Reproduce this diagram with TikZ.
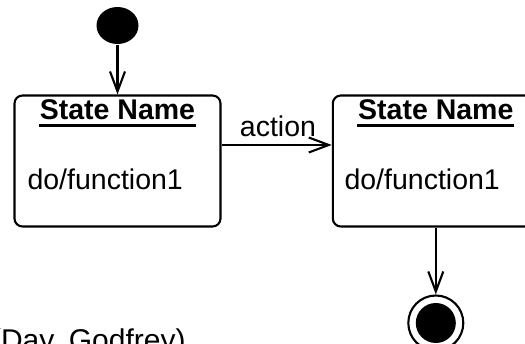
\documentclass[tikz,border=0pt]{standalone}
\usepackage{fontspec}
\setmainfont{Liberation Sans}
\usetikzlibrary{arrows.meta,shapes.geometric}

\begin{document}
\begin{tikzpicture}[x=1pt,y=-1pt,
  line width=2.1pt,
  statebox/.style={draw, rounded corners=8pt, minimum width=206pt, minimum height=131pt, inner sep=0pt},
  txt/.style={font=\fontsize{28.5}{34}\selectfont, inner sep=0pt},
  ttl/.style={font=\fontsize{28.5}{34}\selectfont\bfseries, inner sep=0pt},
  flow/.style={-{Straight Barb[length=20pt,width=15pt,line width=2.1pt]}},
  ]
\useasboundingbox (0,0) rectangle (525,344);
\clip (0,0) rectangle (525,344);

% initial pseudo-state
\node[fill=black, ellipse, minimum width=42pt, minimum height=37pt, inner sep=0pt] (init) at (117.5,25.5) {};

% the two states
\node[statebox] (s1) at (117.5,161) {};
\node[statebox] (s2) at (435.8,161) {};

\node[ttl, anchor=base] (t1) at (117.5,120) {State Name};
\draw[line width=2.2pt] ([yshift=-5.5pt]t1.base west) -- ([yshift=-5.5pt]t1.base east);
\node[txt, anchor=base west] (d1) at (26.5,190) {do/function1};

\node[ttl, anchor=base] (t2) at (435.8,120) {State Name};
\draw[line width=2.2pt] ([yshift=-5.5pt]t2.base west) -- ([yshift=-5.5pt]t2.base east);
\node[txt, anchor=base west] (d2) at (343.5,190) {do/function1};

% final state
\node[circle, draw, minimum size=55pt, inner sep=0pt] (fin) at (435.8,323) {};
\node[circle, fill=black, minimum size=40pt, inner sep=0pt] (finc) at (fin) {};

% transitions
\draw[flow] (init.south) -- (s1.north);
\draw[flow] ([yshift=16pt]s1.east) -- ([yshift=16pt]s2.west);
\node[txt, anchor=base] (act) at (278,136.7) {action};
\draw[flow] (s2.south) -- (fin.north);

% caption
\node[font=\fontsize{30}{36}\selectfont, inner sep=0pt, anchor=base west] (cap) at (-10,351) {(Day, Godfrey)};
\end{tikzpicture}
\end{document}
